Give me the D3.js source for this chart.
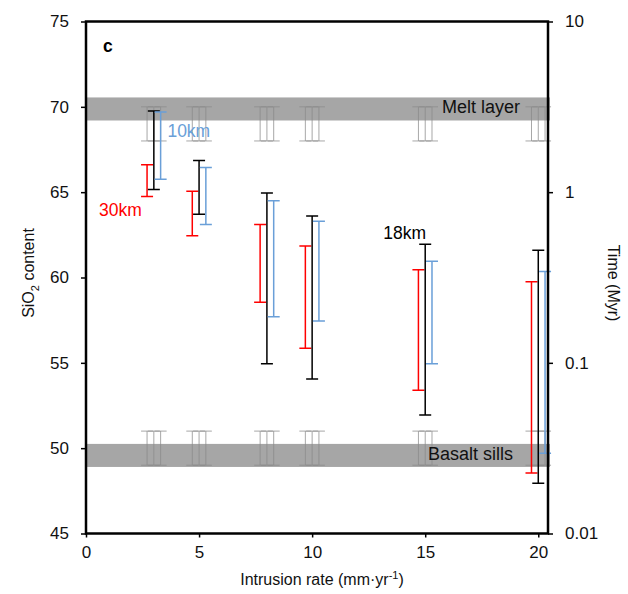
<!DOCTYPE html>
<html>
<head>
<meta charset="utf-8">
<script src="https://cdn.jsdelivr.net/npm/d3@7"></script>
<style>
  body { margin: 0; background: #fff; }
  svg { font-family: "Liberation Sans", Arial, sans-serif; }
  .axis path { display: none; }
  .axis line { stroke: #000; stroke-width: 1.5; }
  .axis text { font-size: 17px; fill: #111; }
</style>
</head>
<body>
<svg id="chart" width="628" height="594"></svg>
<script>
// intrusion rates of each group and the offset of each depth series
var rates = [3, 5, 8, 10, 15, 20];
var depths = ['30km', '18km', '10km'];
var depthOffsets = [-0.3, 0, 0.3];
var depthColors = ['#ff0000', '#000000', '#6a9fd8'];

// SiO2 ranges [low, high] per group, one list per depth
var range30 = [[64.75, 66.6], [62.45, 65.05], [58.55, 63.1], [55.85, 61.85], [53.4, 60.45], [48.55, 59.75]];
var range18 = [[65.15, 69.75], [63.7, 66.85], [54.95, 64.95], [54.05, 63.6], [51.95, 61.95], [47.95, 61.6]];
var range10 = [[65.75, 69.7], [63.1, 66.45], [57.7, 64.5], [57.45, 63.3], [54.95, 60.95], [49.7, 60.35]];

// reference bands
var meltBand = [69.2, 70.55];
var basaltBand = [48.9, 50.25];
var meltRange = [68, 70];
var basaltRange = [49, 51];

var yTicks = [45, 50, 55, 60, 65, 70, 75];
var xTicks = [0, 5, 10, 15, 20];
var timeTicks = [0.01, 0.1, 1, 10];

var margin = {left: 86, right: 80, top: 21.5, bottom: 60.5};
var width = 628 - margin.left - margin.right;
var height = 594 - margin.top - margin.bottom;

var svg = d3.select('#chart');
var g = svg.append('g').attr('transform', 'translate(' + margin.left + ',' + margin.top + ')');

var x = d3.scaleLinear().domain([0, 20.43]).range([0, width]);
var y = d3.scaleLinear().domain([45, 75]).range([height, 0]);
var yTime = d3.scaleLog().domain([0.01, 10]).range([height, 0]);

// grey bands
[meltBand, basaltBand].forEach(function(b) {
  g.append('rect')
    .attr('x', 0)
    .attr('width', width + 2)
    .attr('y', y(b[1]))
    .attr('height', y(b[0]) - y(b[1]))
    .attr('fill', '#a6a6a6');
});

function errorBar(sel, xv, lo, hi, color, w, op) {
  var cx = x(xv);
  var p = 'M' + (cx - 6) + ',' + y(hi) + 'H' + (cx + 6) +
    'M' + cx + ',' + y(hi) + 'V' + y(lo) +
    'M' + (cx - 6) + ',' + y(lo) + 'H' + (cx + 6);
  sel.append('path')
    .attr('d', p)
    .attr('fill', 'none')
    .attr('stroke', color)
    .attr('stroke-width', w)
    .attr('opacity', op);
}

// thin grey ranges for the melt layer and basalt sills
var refG = g.append('g');
rates.forEach(function(r) {
  depthOffsets.forEach(function(o) {
    errorBar(refG, r + o, meltRange[0], meltRange[1], '#8a8a8a', 1, 0.75);
    errorBar(refG, r + o, basaltRange[0], basaltRange[1], '#8a8a8a', 1, 0.75);
  });
});

g.append('text').attr('x', 520 - margin.left).attr('y', 113 - margin.top)
  .attr('text-anchor', 'end').attr('font-size', 18).attr('fill', '#111').text('Melt layer');
g.append('text').attr('x', 513 - margin.left).attr('y', 460 - margin.top)
  .attr('text-anchor', 'end').attr('font-size', 18).attr('fill', '#111').text('Basalt sills');

// colored ranges
var barG = g.append('g');
[range30, range18, range10].forEach(function(series, i) {
  series.forEach(function(d, j) {
    errorBar(barG, rates[j] + depthOffsets[i], d[0], d[1], depthColors[i], 1.5, 1);
  });
});

// depth labels
g.append('text').attr('x', x(3.6)).attr('y', y(68.23)).attr('font-size', 17.5)
  .attr('fill', depthColors[2]).text(depths[2]);
g.append('text').attr('x', x(0.58)).attr('y', y(63.6)).attr('font-size', 17.5)
  .attr('fill', depthColors[0]).text(depths[0]);
g.append('text').attr('x', x(13.15)).attr('y', y(62.25)).attr('font-size', 17.5)
  .attr('fill', depthColors[1]).text(depths[1]);

g.append('text').attr('x', x(0.75)).attr('y', y(73.2)).attr('font-size', 17.5)
  .attr('font-weight', 'bold').text('c');

// axes
g.append('g').attr('class', 'axis')
  .call(d3.axisLeft(y).tickValues(yTicks).tickSize(5).tickSizeOuter(0).tickPadding(12));
g.append('g').attr('class', 'axis')
  .attr('transform', 'translate(' + width + ',0)')
  .call(d3.axisRight(yTime).tickValues(timeTicks).tickSize(5).tickSizeOuter(0).tickPadding(12)
    .tickFormat(function(d) { return d >= 1 ? d3.format('d')(d) : String(d); }));
g.append('g').attr('class', 'axis')
  .attr('transform', 'translate(0,' + height + ')')
  .call(d3.axisBottom(x).tickValues(xTicks).tickSize(4).tickSizeOuter(0).tickPadding(8));

// frame
g.append('rect')
  .attr('width', width).attr('height', height)
  .attr('fill', 'none').attr('stroke', '#000').attr('stroke-width', 2.5);

// axis titles
var xt = svg.append('text').attr('x', 322).attr('y', 585).attr('text-anchor', 'middle')
  .attr('font-size', 16).attr('fill', '#111');
xt.append('tspan').text('Intrusion rate (mm\u00b7yr');
xt.append('tspan').attr('dy', -6).attr('font-size', 11).text('-1');
xt.append('tspan').attr('dy', 6).text(')');

var yt = svg.append('text').attr('transform', 'translate(34,273) rotate(-90)')
  .attr('text-anchor', 'middle').attr('font-size', 16).attr('fill', '#111');
yt.append('tspan').text('SiO');
yt.append('tspan').attr('dy', 5).attr('font-size', 11).text('2');
yt.append('tspan').attr('dy', -5).text(' content');

svg.append('text').attr('transform', 'translate(608,283) rotate(90)')
  .attr('text-anchor', 'middle').attr('font-size', 16).attr('fill', '#111').text('Time (Myr)');
</script>
</body>
</html>
